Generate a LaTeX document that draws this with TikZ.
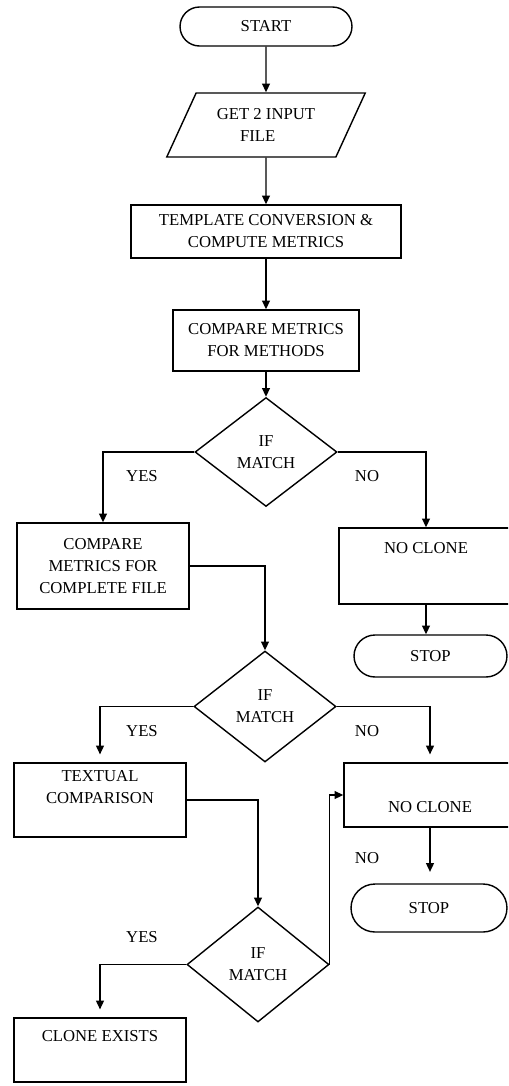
\documentclass[tikz,border=0pt]{standalone}
\usepackage{fontspec}
\setmainfont{Liberation Serif}
\usetikzlibrary{arrows.meta, shapes.geometric, shapes.misc}

\begin{document}
\begin{tikzpicture}[
  x=0.02cm, y=-0.02cm,
  font=\fontsize{9.5}{12.5}\selectfont,
  term/.style={draw, rounded rectangle, line width=0.8pt, inner sep=0pt},
  io/.style={draw, trapezium, trapezium left angle=58, trapezium right angle=122, trapezium stretches=true, line width=0.8pt, align=center, inner sep=0pt},
  proc/.style={draw, rectangle, line width=0.8pt, align=center, inner sep=0pt},
  decide/.style={draw, diamond, line width=0.8pt, align=center, inner sep=0pt, minimum width=2.84cm, minimum height=2.2cm},
  lbl/.style={inner sep=0pt},
  arr/.style={-{Triangle[length=5pt,width=4.5pt]}, line width=0.8pt}
]
\clip (0,0) rectangle (508,1086);

% --- main column ---
\node[term, minimum width=3.44cm, minimum height=0.78cm] (start) at (266,26.5) {START};
\node[io, minimum width=4cm, minimum height=1.28cm] (input) at (266,125) {GET 2 INPUT\\FILE\hspace*{1em}};
\node[proc, minimum width=5.4cm, minimum height=1.06cm] (templ) at (266,231.5) {TEMPLATE CONVERSION \&\\COMPUTE METRICS};
\node[proc, minimum width=3.72cm, minimum height=1.22cm] (cmpmeth) at (266,340.5) {COMPARE METRICS\\FOR METHODS};
\node[decide, minimum height=2.18cm] (if1) at (266,452) {IF\\MATCH};
\draw[arr] (start) -- (input);
\draw[arr] (input) -- (templ);
\draw[arr] (templ) -- (cmpmeth);
\draw[arr] (cmpmeth) -- (if1);

% --- first test ---
\node[proc, minimum width=3.44cm, minimum height=1.72cm] (cmpfile) at (103,566) {COMPARE\\METRICS FOR\\COMPLETE FILE};
\node[proc, minimum width=3.48cm, minimum height=1.52cm, text depth=20pt] (noclone1) at (426,566) {NO CLONE};
\node[term, minimum width=3.06cm, minimum height=0.84cm] (stop1) at (430.5,656) {STOP};
\node[lbl] (yes1) at (142,476) {YES};
\node[lbl] (no1) at (367,476) {NO};
\draw[arr] (if1.west) -| (cmpfile.north);
\draw[arr] (if1.east) -| (noclone1.north);
\draw[arr] (noclone1.south) -- (noclone1.south |- stop1.north);

% --- second test ---
\node[decide, minimum height=2.22cm] (if2) at (265,706.5) {IF\\MATCH};
\node[proc, minimum width=3.44cm, minimum height=1.48cm, text height=3.5pt] (textual) at (100,800) {TEXTUAL\\COMPARISON};
\node[proc, minimum width=3.44cm, minimum height=1.28cm, text height=20pt] (noclone2) at (430,795) {NO CLONE};
\node[term, minimum width=3.12cm, minimum height=0.96cm] (stop2) at (429,908) {STOP};
\node[lbl] (yes2) at (142,731) {YES};
\node[lbl] (no2) at (367,731) {NO};
\draw[arr] (cmpfile.east) -| (if2.north);
\draw[arr, shorten >=4.5pt] (if2.west) -| (textual.north);
\draw[arr, shorten >=4.5pt] (if2.east) -| (noclone2.north);
\draw[arr, shorten >=6.5pt] (noclone2.south) -- (noclone2.south |- stop2.north);

% --- third test ---
\node[decide, minimum height=2.3cm] (if3) at (258,964.5) {IF\\MATCH};
\node[proc, minimum width=3.44cm, minimum height=1.28cm, text depth=16pt] (exists) at (100,1050) {CLONE EXISTS};
\node[lbl] (yes3) at (142,937) {YES};
\node[lbl] (no3) at (367,858) {NO};
\draw[arr] (textual.east) -| (if3.north);
\draw[arr, shorten >=4.5pt] (if3.west) -| (exists.north);
\draw[arr] (if3.east) |- (noclone2.west);
\end{tikzpicture}
\end{document}
